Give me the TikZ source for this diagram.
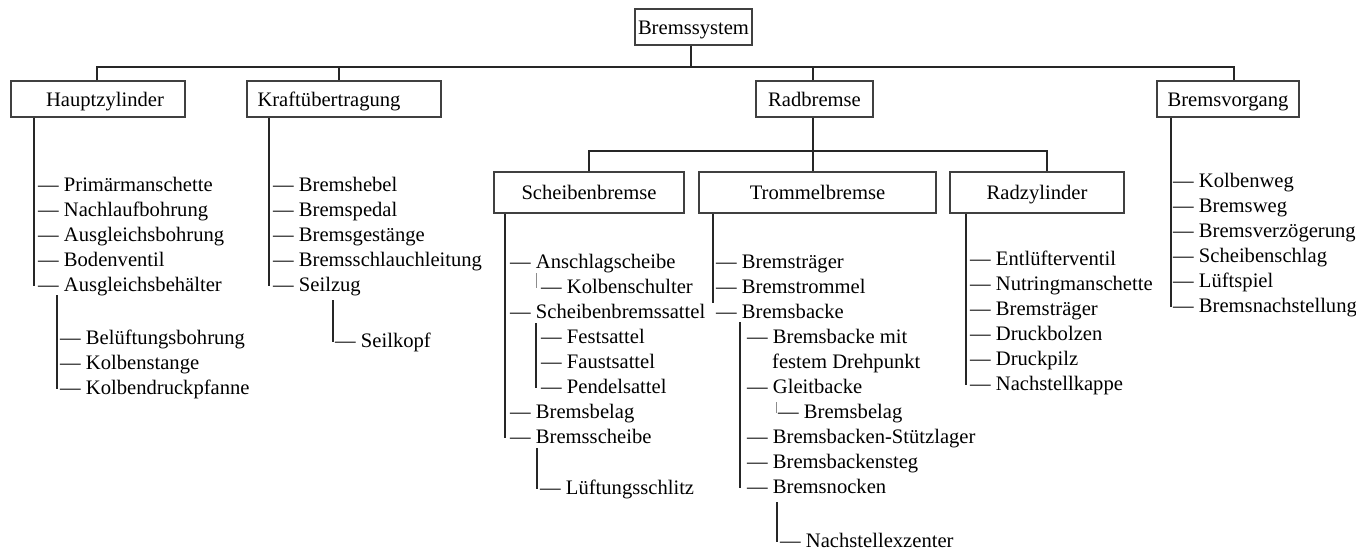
\documentclass[tikz,border=0pt]{standalone}
\usepackage{fontspec}
\setmainfont{Liberation Serif}
\begin{document}
\begin{tikzpicture}[x=1pt,y=-1pt,
  item/.style={anchor=base west, inner sep=0pt, text height=14pt, text depth=4pt, font=\fontsize{20.6}{25}\selectfont},
  box/.style={draw=black!75, line width=1.1pt, inner sep=0pt, text height=15pt, text depth=1pt, font=\fontsize{20.6}{25}\selectfont},
  conn/.style={draw=black!85, line width=1.1pt},
  faint/.style={draw=black!45, line width=0.9pt}]
\useasboundingbox (0,0) rectangle (1356,550);

% boxes
\node[box, minimum width=117pt, minimum height=36pt] (root) at (693.5,27) {Bremssystem};
\node[box, minimum width=174pt, minimum height=36pt] (hz) at (98,99) {\hspace*{14pt}Hauptzylinder};
\node[box, minimum width=194pt, minimum height=36pt] (kr) at (344,99) {Kraftübertragung\hspace*{30pt}};
\node[box, minimum width=117pt, minimum height=36pt] (rb) at (814.5,99) {Radbremse};
\node[box, minimum width=142pt, minimum height=36pt] (bv) at (1228,99) {Bremsvorgang};
\node[box, minimum width=190pt, minimum height=41pt] (sb) at (589,192.5) {Scheibenbremse};
\node[box, minimum width=237pt, minimum height=41pt] (tb) at (817.5,192.5) {Trommelbremse};
\node[box, minimum width=174pt, minimum height=41pt] (rz) at (1037,192.5) {Radzylinder};

% bus lines
\coordinate (bus1) at (0,67);
\coordinate (bus2) at (0,151);
\draw[conn] ([xshift=-2.5pt]root.south) -- ([xshift=-2.5pt]root.south |- bus1);
\draw[conn] ([xshift=-1pt]hz.north) -- ([xshift=-1pt]hz.north |- bus1) -- ([xshift=6pt]bv.north |- bus1) -- ([xshift=6pt]bv.north);
\draw[conn] ([xshift=-5pt]kr.north) -- ([xshift=-5pt]kr.north |- bus1);
\draw[conn] ([xshift=-1.5pt]rb.north) -- ([xshift=-1.5pt]rb.north |- bus1);
\draw[conn] ([xshift=-1.5pt]rb.south) -- ([xshift=-4.5pt]tb.north);
\draw[conn] (sb.north) -- (sb.north |- bus2) -- ([xshift=10pt]rz.north |- bus2) -- ([xshift=10pt]rz.north);

% Hauptzylinder
\node[item] (hz1) at (38,191) {— Primärmanschette};
\node[item] (hz2) at (38,216) {— Nachlaufbohrung};
\node[item] (hz3) at (38,241) {— Ausgleichsbohrung};
\node[item] (hz4) at (38,266) {— Bodenventil};
\node[item] (hz5) at (38,291) {— Ausgleichsbehälter};
\draw[conn] ([xshift=-4pt]hz.south -| hz1.west) -- ([xshift=-4pt]hz5.west);
\node[item] (hzs1) at (60,344) {— Belüftungsbohrung};
\node[item] (hzs2) at (60,369) {— Kolbenstange};
\node[item] (hzs3) at (60,394) {— Kolbendruckpfanne};
\draw[conn] ([xshift=-3pt]hz5.south -| hzs1.west) -- ([xshift=-3pt]hzs3.west);

% Kraftuebertragung
\node[item] (kr1) at (273,191) {— Bremshebel};
\node[item] (kr2) at (273,216) {— Bremspedal};
\node[item] (kr3) at (273,241) {— Bremsgestänge};
\node[item] (kr4) at (273,266) {— Bremsschlauchleitung};
\node[item] (kr5) at (273,291) {— Seilzug};
\draw[conn] ([xshift=-4pt]kr.south -| kr1.west) -- ([xshift=-4pt]kr5.west);
\node[item] (krs1) at (335,347) {— Seilkopf};
\draw[conn] ([xshift=-2pt,yshift=-5pt]kr5.south -| krs1.west) -- ([xshift=-2pt]krs1.west);

% Scheibenbremse
\node[item] (sb1) at (510,268) {— Anschlagscheibe};
\node[item] (sb2) at (510,318) {— Scheibenbremssattel};
\node[item] (sb3) at (510,418) {— Bremsbelag};
\node[item] (sb4) at (510,443) {— Bremsscheibe};
\draw[conn] ([xshift=-5pt]sb.south -| sb1.west) -- ([xshift=-5pt]sb4.west);
\node[item] (sba1) at (541,293) {— Kolbenschulter};
\draw[faint] ([xshift=-5pt,yshift=-1pt]sb1.south -| sba1.west) -- ([xshift=-5pt]sba1.west);
\node[item] (sbb1) at (541,343) {— Festsattel};
\node[item] (sbb2) at (541,368) {— Faustsattel};
\node[item] (sbb3) at (541,393) {— Pendelsattel};
\draw[conn] ([xshift=-5pt,yshift=-1pt]sb2.south -| sbb1.west) -- ([xshift=-5pt]sbb3.west);
\node[item] (sbc1) at (540,494) {— Lüftungsschlitz};
\draw[conn] ([xshift=-3pt,yshift=-1pt]sb4.south -| sbc1.west) -- ([xshift=-3pt]sbc1.west);

% Trommelbremse
\node[item] (tb1) at (716,268) {— Bremsträger};
\node[item] (tb2) at (716,293) {— Bremstrommel};
\node[item] (tb3) at (716,318) {— Bremsbacke};
\draw[conn] ([xshift=-3pt]tb.south -| tb1.west) -- ([xshift=-3pt,yshift=-6pt]tb2.south -| tb1.west);
\node[item] (tba1) at (747,343) {— Bremsbacke mit};
\node[item] (tba1b) at (772,368) {festem Drehpunkt};
\node[item] (tba2) at (747,393) {— Gleitbacke};
\node[item] (tba3) at (747,443) {— Bremsbacken-Stützlager};
\node[item] (tba4) at (747,468) {— Bremsbackensteg};
\node[item] (tba5) at (747,493) {— Bremsnocken};
\draw[conn] ([xshift=-7pt]tb3.south -| tba1.west) -- ([xshift=-7pt]tba5.west);
\node[item] (tbb1) at (778,418) {— Bremsbelag};
\draw[faint] ([xshift=-2pt,yshift=-5pt]tba2.south -| tbb1.west) -- ([xshift=-2pt]tbb1.west);
\node[item] (tbc1) at (780,547) {— Nachstellexzenter};
\draw[conn] ([xshift=-3pt,yshift=-5pt]tba5.south -| tbc1.west) -- ([xshift=-3pt]tbc1.west);

% Radzylinder
\node[item] (rz1) at (970,265) {— Entlüfterventil};
\node[item] (rz2) at (970,290) {— Nutringmanschette};
\node[item] (rz3) at (970,315) {— Bremsträger};
\node[item] (rz4) at (970,340) {— Druckbolzen};
\node[item] (rz5) at (970,365) {— Druckpilz};
\node[item] (rz6) at (970,390) {— Nachstellkappe};
\draw[conn] ([xshift=-4pt]rz.south -| rz1.west) -- ([xshift=-4pt]rz6.west);

% Bremsvorgang
\node[item] (bv1) at (1173,187) {— Kolbenweg};
\node[item] (bv2) at (1173,212) {— Bremsweg};
\node[item] (bv3) at (1173,237) {— Bremsverzögerung};
\node[item] (bv4) at (1173,262) {— Scheibenschlag};
\node[item] (bv5) at (1173,287) {— Lüftspiel};
\node[item] (bv6) at (1173,312) {— Bremsnachstellung};
\draw[conn] ([xshift=-2pt]bv.south -| bv1.west) -- ([xshift=-2pt]bv6.west);
\end{tikzpicture}
\end{document}
